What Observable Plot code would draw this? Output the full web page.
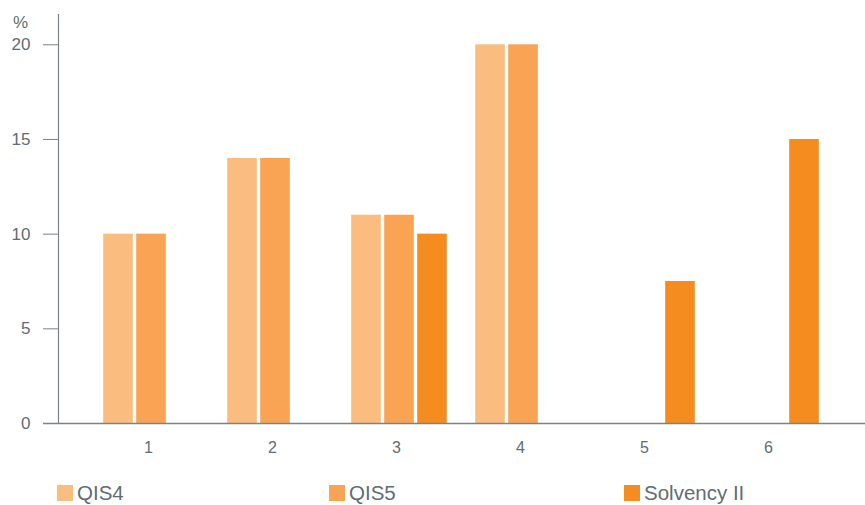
<!DOCTYPE html>
<html>
<head>
<meta charset="utf-8">
<script src="https://cdn.jsdelivr.net/npm/d3@7"></script>
<script src="https://cdn.jsdelivr.net/npm/@observablehq/plot@0.6"></script>
<style>
  html, body { margin: 0; padding: 0; background: #fff; }
  body { width: 865px; height: 505px; overflow: hidden; font-family: "Liberation Sans", Arial, sans-serif; }
  #legend { position: relative; height: 35px; }
  .item { position: absolute; top: 15px; display: flex; align-items: center; height: 16px; color: #626c74; font-size: 20.5px; }
  .sw { width: 16px; height: 16px; margin-right: 4px; }
</style>
</head>
<body>
<div id="chart"></div>
<div id="legend"></div>
<script>
const categories = ["1", "2", "3", "4", "5", "6"];
const seriesNames = ["QIS4", "QIS5", "Solvency II"];
const qis4 = [10, 14, 11, 20, null, null];
const qis5 = [10, 14, 11, 20, null, null];
const solvency = [null, null, 10, null, 7.5, 15];
const seriesColors = ["#FBBC80", "#F9A455", "#F58C1F"];
const yTicks = [0, 5, 10, 15, 20];

const seriesValues = [qis4, qis5, solvency];
const data = [];
seriesNames.forEach((s, si) => {
  categories.forEach((c, ci) => {
    const v = seriesValues[si][ci];
    if (v != null) data.push({category: c, series: s, value: v});
  });
});

const axisColor = "#7b838a";
const textColor = "#626c74";
const barOffsets = [-33, 0, 33];

const chart = Plot.plot({
  width: 865,
  height: 470,
  marginLeft: 58,
  marginRight: 0,
  marginTop: 14,
  marginBottom: 47,
  x: {domain: categories, range: [87.8, 834.2], padding: 0, label: null},
  y: {domain: [0, 21.6], label: null},
  style: {fontFamily: "'Liberation Sans', Arial, sans-serif", fontSize: "16px", color: textColor, background: "white"},
  marks: [
    ...seriesNames.map((s, i) => Plot.barY(data.filter(d => d.series === s), {
      x: "category", y: "value", fill: seriesColors[i],
      insetLeft: 47.2, insetRight: 47.2, dx: barOffsets[i]
    })),
    Plot.frame({anchor: "left", stroke: axisColor, strokeWidth: 1.2}),
    Plot.ruleY([0], {stroke: axisColor, strokeWidth: 1.5, insetLeft: -15}),
    Plot.axisY({ticks: yTicks, tickSize: 15, tickPadding: 13, stroke: axisColor, fill: textColor, label: null, fontSize: 17}),
    Plot.axisX({tickSize: 0, tickPadding: 18, dx: -3, fill: textColor, label: null, fontSize: 16}),
    Plot.text(["%"], {frameAnchor: "top-left", dx: -38, dy: 8, text: d => d, textAnchor: "middle", lineAnchor: "middle", fill: textColor, fontSize: 17})
  ]
});
document.getElementById("chart").appendChild(chart);

const legendLefts = [57, 329, 624];
const legend = document.getElementById("legend");
seriesNames.forEach((s, i) => {
  const item = document.createElement("div");
  item.className = "item";
  item.style.left = legendLefts[i] + "px";
  const sw = document.createElement("div");
  sw.className = "sw";
  sw.style.background = seriesColors[i];
  const t = document.createElement("span");
  t.textContent = s;
  item.appendChild(sw);
  item.appendChild(t);
  legend.appendChild(item);
});
</script>
</body>
</html>
